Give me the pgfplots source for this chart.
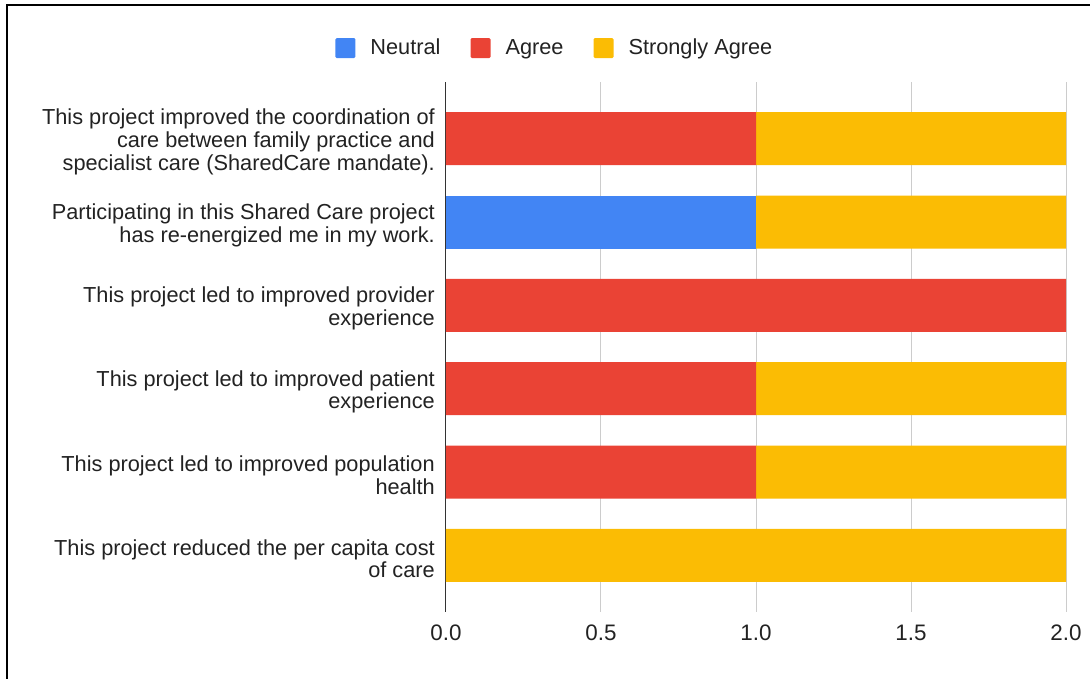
\documentclass[border=0pt]{standalone}
\usepackage{fontspec}
\setmainfont{Liberation Sans}
\usepackage{pgfplots}
\pgfplotsset{compat=1.18}
\definecolor{cNeutral}{HTML}{4285F4}
\definecolor{cAgree}{HTML}{EA4335}
\definecolor{cSA}{HTML}{FBBC04}
\definecolor{txt}{HTML}{222222}
\begin{document}
\begin{tikzpicture}
\path[use as bounding box] (0pt,0pt) rectangle (817.5pt,509.25pt);
\draw[line width=1.5pt] (5.25pt,0pt) -- (5.25pt,505.3pt) -- (817.5pt,505.3pt);
\begin{axis}[
  at={(334.5pt,50.25pt)}, anchor=south west,
  scale only axis, width=465pt, height=397.5pt,
  xbar stacked, bar width=39.75pt,
  xmin=0, xmax=2, ymin=-0.68, ymax=5.68, y dir=reverse,
  xtick={0,0.5,1,1.5,2},
  xticklabel style={/pgf/number format/fixed, /pgf/number format/fixed zerofill, /pgf/number format/precision=1, yshift=-6pt, font=\fontsize{16.8}{17}\selectfont},
  /pgf/number format/assume math mode=true,
  ytick={0,1,2,3,4,5},
  yticklabels={{This project improved the coordination of\\care between family practice and\\specialist care (SharedCare mandate).},
    {Participating in this Shared Care project\\has re-energized me in my work.},
    {This project led to improved provider\\experience},
    {This project led to improved patient\\experience},
    {This project led to improved population\\health},
    {This project reduced the per capita cost\\of care}},
  yticklabel style={align=right, inner sep=0pt, xshift=-8.25pt, yshift=-2.5pt, font=\fontsize{16.3}{17}\selectfont},
  tick label style={text=txt},
  major tick length=0pt,
  xmajorgrids, grid style={draw=black!20, line width=0.75pt},
  axis x line*=bottom, axis y line*=left,
  x axis line style={draw=none},
  y axis line style={draw=black!80, line width=0.75pt, -},
  legend columns=3,
  legend style={at={(0.174,1.064)}, anchor=center, draw=none, fill=none,
    font=\fontsize{16.3}{17}\selectfont, text=txt,
    nodes={inner sep=0pt},
    /tikz/every odd column/.append style={column sep=11.25pt},
    /tikz/every even column/.append style={column sep=22.5pt}},
  legend image code/.code={\fill[#1, draw=none, rounded corners=1pt] (0pt,-7.5pt) rectangle (15pt,7.5pt);},
]
\addplot[fill=cNeutral, draw=none] coordinates {(0,0) (1,1) (0,2) (0,3) (0,4) (0,5)};
\addplot[fill=cAgree, draw=none] coordinates {(1,0) (0,1) (2,2) (1,3) (1,4) (0,5)};
\addplot[fill=cSA, draw=none] coordinates {(1,0) (1,1) (0,2) (1,3) (1,4) (2,5)};
\legend{Neutral, Agree, Strongly Agree}
\end{axis}
\end{tikzpicture}
\end{document}
